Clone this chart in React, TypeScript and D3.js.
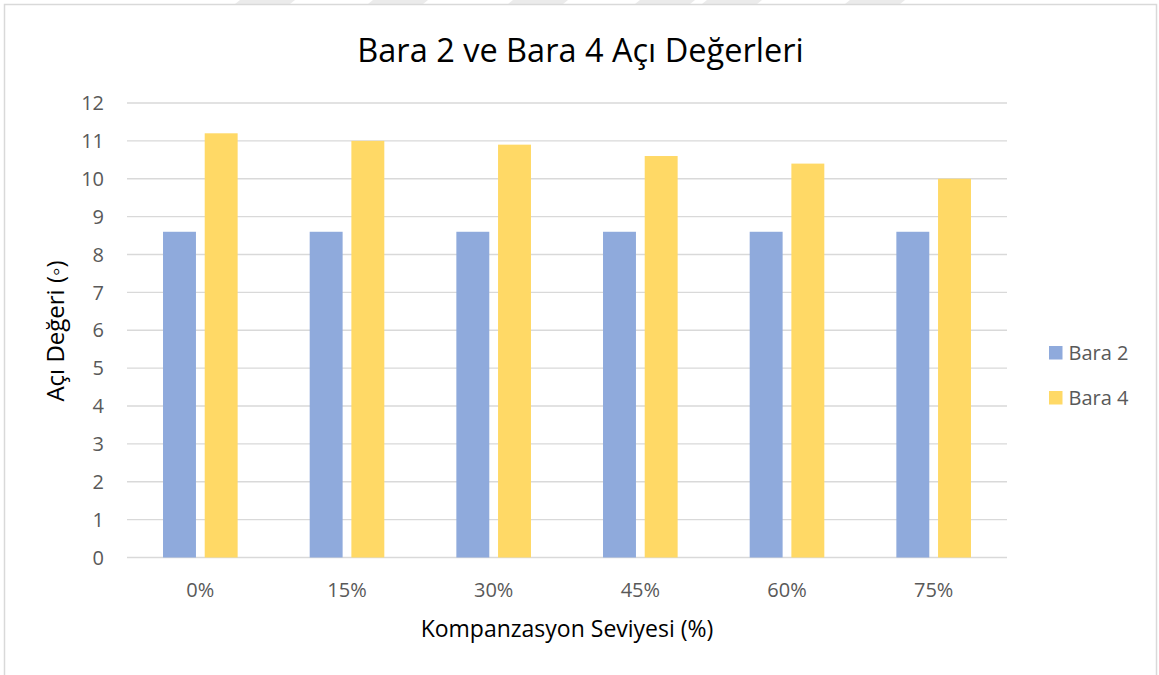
import React, { useEffect, useRef } from 'react';
import * as d3 from 'd3';

// chart data
const categories = ['0%', '15%', '30%', '45%', '60%', '75%'];
const seriesNames = ['Bara 2', 'Bara 4'];
const bara2 = [8.6, 8.6, 8.6, 8.6, 8.6, 8.6];
const bara4 = [11.2, 11.0, 10.9, 10.6, 10.4, 10.0];
const yTicks = [0, 1, 2, 3, 4, 5, 6, 7, 8, 9, 10, 11, 12];

const colors = ['#8FAADC', '#FFD966'];
const FONT = '"Open Sans", sans-serif';

export default function App() {
  const ref = useRef<SVGSVGElement>(null);

  useEffect(() => {
    const svg = d3.select(ref.current);
    svg.selectAll('*').remove();

    const width = 1159;
    const height = 675;
    const left = 127;
    const right = 1007;
    const top = 103;
    const bottom = 557.5;

    svg.append('rect')
      .attr('width', width)
      .attr('height', height)
      .style('fill', 'white');

    // faint watermark shapes at the very top
    const marks = [240, 373, 513, 640, 707, 850];
    svg.selectAll('.wm')
      .data(marks)
      .enter()
      .append('path')
      .attr('class', 'wm')
      .attr('d', (d) => `M${d},0 L${d + 55},0 L${d + 50},4 L${d - 5},4 Z`)
      .style('fill', '#EBEBEB');

    // chart border
    svg.append('rect')
      .attr('x', 4.5)
      .attr('y', 4.5)
      .attr('width', 1152)
      .attr('height', 700)
      .style('fill', 'none')
      .style('stroke', '#D9D9D9')
      .style('stroke-width', 1.5);

    const x0 = d3.scaleBand()
      .domain(categories)
      .range([left, right])
      .padding(0);

    const x1 = d3.scaleBand()
      .domain(seriesNames)
      .range([0, x0.bandwidth()])
      .paddingInner(0.21)
      .paddingOuter(0.864);

    const y = d3.scaleLinear()
      .domain([0, 12])
      .range([bottom, top]);

    // gridlines
    svg.append('g')
      .selectAll('line')
      .data(yTicks)
      .enter()
      .append('line')
      .attr('x1', left)
      .attr('x2', right)
      .attr('y1', (d) => y(d))
      .attr('y2', (d) => y(d))
      .style('stroke', '#D9D9D9')
      .style('stroke-width', 1.3);

    // y tick labels
    svg.append('g')
      .selectAll('text')
      .data(yTicks)
      .enter()
      .append('text')
      .attr('x', 104)
      .attr('y', (d) => y(d))
      .attr('dy', '0.36em')
      .style('text-anchor', 'end')
      .style('font-family', FONT)
      .style('font-size', '20px')
      .style('fill', '#595959')
      .text((d) => d);

    // bars
    const allSeries = [bara2, bara4];
    const groups = svg.append('g')
      .selectAll('g')
      .data(categories)
      .enter()
      .append('g')
      .attr('transform', (d) => `translate(${x0(d)},0)`);

    groups.selectAll('rect')
      .data((d, i) => seriesNames.map((s, k) => ({ s, k, v: allSeries[k][i] })))
      .enter()
      .append('rect')
      .attr('x', (d) => x1(d.s))
      .attr('width', x1.bandwidth())
      .attr('y', (d) => y(d.v))
      .attr('height', (d) => y(0) - y(d.v))
      .style('fill', (d) => colors[d.k]);

    // x tick labels
    svg.append('g')
      .selectAll('text')
      .data(categories)
      .enter()
      .append('text')
      .attr('x', (d) => x0(d) + x0.bandwidth() / 2)
      .attr('y', 597)
      .style('text-anchor', 'middle')
      .style('font-family', FONT)
      .style('font-size', '20px')
      .style('fill', '#595959')
      .text((d) => d);

    // title
    svg.append('text')
      .attr('x', 580.5)
      .attr('y', 62)
      .style('text-anchor', 'middle')
      .style('font-family', FONT)
      .style('font-size', '32.5px')
      .style('fill', '#000')
      .text('Bara 2 ve Bara 4 Açı Değerleri');

    // axis titles
    svg.append('text')
      .attr('x', 567)
      .attr('y', 637)
      .style('text-anchor', 'middle')
      .style('font-family', FONT)
      .style('font-size', '23px')
      .style('fill', '#000')
      .text('Kompanzasyon Seviyesi (%)');

    svg.append('text')
      .attr('transform', 'translate(64, 331) rotate(-90)')
      .style('text-anchor', 'middle')
      .style('font-family', FONT)
      .style('font-size', '24px')
      .style('fill', '#000')
      .text('Açı Değeri (◦)');

    // legend
    const legend = svg.append('g')
      .selectAll('g')
      .data(seriesNames)
      .enter()
      .append('g')
      .attr('transform', (d, i) => `translate(1049, ${346 + i * 45})`);

    legend.append('rect')
      .attr('width', 13.5)
      .attr('height', 13.5)
      .style('fill', (d, i) => colors[i]);

    legend.append('text')
      .attr('x', 19.5)
      .attr('y', 7)
      .attr('dy', '0.36em')
      .style('font-family', FONT)
      .style('font-size', '20px')
      .style('fill', '#595959')
      .text((d) => d);
  }, []);

  return (
    <svg
      ref={ref}
      width={1159}
      height={675}
      style={{ position: 'absolute', left: 0, top: 0, display: 'block' }}
    />
  );
}
